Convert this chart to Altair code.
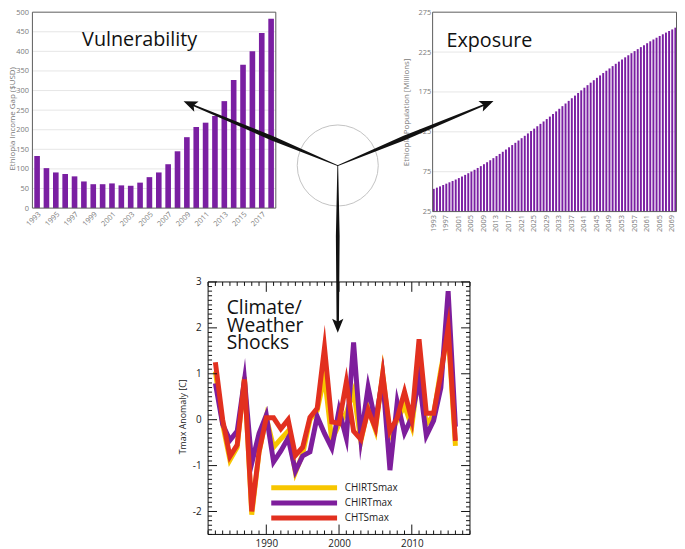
import math
import altair as alt
import pandas as pd

# ---------------- data ----------------
vul_years = list(range(1993, 2019))
vul_gap = [133, 102, 91, 87, 81, 68, 61, 61, 63, 58, 57, 65, 79, 91, 112, 145,
           181, 207, 218, 235, 273, 327, 366, 400, 447, 483]

pop_years = list(range(1993, 2071))
pop_millions = [53.5, 55.0, 56.6, 58.3, 60.0, 61.7, 63.4, 65.2, 67.0, 69.0,
                71.0, 73.1, 75.2, 77.4, 79.7, 82.0, 84.4, 86.9, 89.4, 92.0,
                94.6, 97.3, 100.0, 102.8, 105.6, 108.4, 111.2, 114.1, 117.0, 120.0,
                123.0, 126.0, 129.0, 132.0, 135.0, 138.0, 141.0, 144.1, 147.3, 150.6,
                153.9, 157.2, 160.5, 163.8, 167.1, 170.4, 173.7, 177.0, 180.3, 183.5,
                186.6, 189.7, 192.7, 195.7, 198.7, 201.6, 204.5, 207.4, 210.3, 213.0,
                215.7, 218.4, 221.0, 223.6, 226.2, 228.7, 231.2, 233.7, 236.1, 238.5,
                240.8, 243.0, 245.2, 247.3, 249.4, 251.4, 253.4, 255.6]

clim_years = list(range(1983, 2017))
chirts_max = [1.05, -0.10, -0.88, -0.60, 0.93, -2.07, -0.72, 0.05, -0.60, -0.42,
              -0.25, -1.15, -0.75, 0.00, 0.20, 0.95, -0.45, -0.10, 0.15, 0.62,
              -0.47, 0.25, -0.22, 1.00, -0.35, 0.00, 0.30, -0.15, 1.10, -0.10,
              0.10, 1.10, 1.90, -0.57]
chirt_max = [0.79, -0.10, -0.45, -0.25, 0.87, -0.95, -0.30, 0.10, -0.92, -0.68,
             -0.40, -1.12, -0.79, -0.70, 0.07, -0.30, -0.62, 0.21, -0.40, 1.68,
             -0.40, 0.71, -0.05, 0.90, -1.10, 0.38, -0.29, 0.05, 0.90, -0.35,
             -0.02, 0.70, 2.80, -0.15]
chts_max = [1.25, 0.00, -0.80, -0.55, 0.88, -2.00, -0.70, 0.04, 0.04, -0.20,
            0.00, -0.78, -0.60, 0.05, 0.25, 1.57, -0.05, -0.08, 0.82, -0.25,
            -0.43, 0.21, -0.18, 1.00, -0.25, 0.04, 0.61, 0.00, 1.75, 0.14,
            0.14, 1.00, 2.00, -0.46]
series_names = ["CHIRTSmax", "CHIRTmax", "CHTSmax"]
series_colors = ["#f7c600", "#7e1e9c", "#e2301f"]

# ---------------- layout helpers (figure pixel frame -> view pixels) ----------------
W, H = 677, 541
TOP_S = (274 - 1) / (282 - 3.3)


def fx(x):
    return x - 8


def fy(y):
    if y >= 282:
        return y - 8
    return 1 + (y - 3.3) * TOP_S


FONT = "Open Sans"
GRAY = "#7a7a7a"
PURPLE = "#7a1fa2"
FRAME = "#5a5a5a"
one = pd.DataFrame({"k": [0]})

# panel boxes (left, right, top, bottom)
VB = (fx(32.7), fx(279), fy(3.3), fy(205.7))
EB = (fx(437.7), fx(684.5), fy(3.3), fy(209.3))
CB = (fx(210.5), fx(475.5), fy(282), fy(537.5))


def frame(box, color):
    return alt.Chart(one).mark_rect(fillOpacity=0, stroke=color, strokeWidth=1).encode(
        x=alt.value(box[0]), x2=alt.value(box[1]), y=alt.value(box[2]), y2=alt.value(box[3]))


def label(text, x, y, size=20):
    return alt.Chart(one).mark_text(
        text=text, font=FONT, fontSize=size, lineHeight=18, align="left",
        baseline="alphabetic", color="#111").encode(x=alt.value(fx(x)), y=alt.value(fy(y)))


# ---------------- vulnerability ----------------
vul_df = pd.DataFrame({"year": vul_years, "gap": vul_gap})
vul_x = alt.X("year:O", scale=alt.Scale(range=[VB[0], VB[1]], paddingInner=0.4, paddingOuter=0.2),
              axis=alt.Axis(values=vul_years[::2], labelAngle=-45, labelFontSize=7.5,
                            labelColor=GRAY, ticks=False, title=None, domain=False, grid=False,
                            labelPadding=2, orient="bottom", offset=-(H - VB[3])))
vul_yaxis = alt.Axis(values=list(range(0, 501, 50)), title="Ethiopia Income Gap ($USD)",
                     titleFontSize=8, titleColor=GRAY, titleFontWeight="normal",
                     labelFontSize=7.5, labelColor=GRAY, ticks=False, labelPadding=4,
                     domain=False, grid=False, orient="left", offset=-VB[0],
                     titleX=-(VB[0] - 4.5), titleY=fy(113), titleBaseline="middle",
                     titleAlign="center")
vul_yscale = alt.Scale(domain=[0, 500], range=[VB[3], VB[2]], nice=False)
vul_grid = alt.Chart(pd.DataFrame({"gap": list(range(50, 451, 50))})).mark_rule(
    color="#e6e6e6", strokeWidth=1).encode(
    y=alt.Y("gap:Q", scale=vul_yscale, axis=vul_yaxis),
    x=alt.value(VB[0]), x2=alt.value(VB[1]))
vul_bars = alt.Chart(vul_df).mark_bar(color=PURPLE).encode(
    x=vul_x, y=alt.Y("gap:Q", scale=vul_yscale, axis=vul_yaxis))
vul = alt.layer(vul_grid, vul_bars, frame(VB, FRAME), label("Vulnerability", 83, 38.3))

# ---------------- exposure ----------------
pop_df = pd.DataFrame({"year": pop_years, "pop": pop_millions})
pop_x = alt.X("year:O", scale=alt.Scale(range=[EB[0], EB[1]], paddingInner=0.38, paddingOuter=0.05),
              axis=alt.Axis(values=pop_years[::4], labelAngle=-90, labelFontSize=7.5,
                            labelColor=GRAY, ticks=False, title=None, domain=False, grid=False,
                            labelPadding=3, orient="bottom", offset=-(H - EB[3])))
pop_yaxis = alt.Axis(values=[25, 75, 125, 175, 225, 275], title="Ethiopia Population [Millions]",
                     titleFontSize=8, titleColor=GRAY, titleFontWeight="normal",
                     labelFontSize=7.5, labelColor=GRAY, ticks=False, labelPadding=2,
                     domain=False, grid=False, titlePadding=8, orient="left", offset=-EB[0])
pop_yscale = alt.Scale(domain=[25, 275], range=[EB[3], EB[2]], nice=False, zero=False)
pop_grid = alt.Chart(pd.DataFrame({"pop": [75, 125, 175, 225]})).mark_rule(
    color="#e6e6e6", strokeWidth=1).encode(
    y=alt.Y("pop:Q", scale=pop_yscale, axis=pop_yaxis),
    x=alt.value(EB[0]), x2=alt.value(EB[1]))
pop_bars = alt.Chart(pop_df).mark_bar(color=PURPLE).encode(
    x=pop_x, y=alt.Y("pop:Q", scale=pop_yscale, axis=pop_yaxis), y2=alt.datum(25))
expo = alt.layer(pop_grid, pop_bars, frame(EB, FRAME), label("Exposure", 451.7, 39))

# ---------------- climate ----------------
rows = []
for name, vals in zip(series_names, [chirts_max, chirt_max, chts_max]):
    for yr, v in zip(clim_years, vals):
        rows.append({"year": yr, "anomaly": v, "series": name})
clim_df = pd.DataFrame(rows)

xscale = alt.Scale(domain=[1982, 2018], range=[CB[0], CB[1]], nice=False, zero=False)
yscale = alt.Scale(domain=[-2.5, 3], range=[CB[3], CB[2]], nice=False, zero=False)
cscale = alt.Scale(domain=series_names, range=series_colors)
c_xaxis = alt.Axis(values=[1990, 2000, 2010], format="d", ticks=False, title=None, grid=False,
                   labelFontSize=10, labelColor="#222", domain=False, labelPadding=4,
                   orient="bottom", offset=-(H - CB[3]))
c_yaxis = alt.Axis(values=[-2, -1, 0, 1, 2, 3], labelExpr="datum.value", ticks=False,
                   grid=False, title="Tmax Anomaly [C]", titleFontSize=9, titleColor="#222",
                   titleFontWeight="normal", labelFontSize=10, labelColor="#222",
                   domain=False, labelPadding=7, titlePadding=5, orient="left", offset=-CB[0],
                   titleY=fy(418))
legend = alt.Legend(title=None, orient="none", legendX=fx(271.7), legendY=fy(487.3) - 3,
                    direction="vertical", symbolType="stroke", symbolSize=66.6 ** 2,
                    symbolStrokeWidth=5, labelFontSize=10, labelFont=FONT, labelColor="#222",
                    clipHeight=12, rowPadding=3.3, labelOffset=5)


def line_layer(name):
    return alt.Chart(clim_df).transform_filter(alt.datum.series == name).mark_line(
        strokeWidth=5, strokeJoin="miter", strokeMiterLimit=10).encode(
        x=alt.X("year:Q", scale=xscale, axis=c_xaxis),
        y=alt.Y("anomaly:Q", scale=yscale, axis=c_yaxis),
        color=alt.Color("series:N", scale=cscale, legend=legend))


lines = [line_layer(n) for n in series_names]

# inward frame ticks
xt = pd.DataFrame({"year": list(range(1982, 2019))})
xt["len"] = [10 if y % 10 == 0 else 4 for y in xt["year"]]
yt = pd.DataFrame({"anomaly": [round(-2.5 + 0.1 * k, 1) for k in range(56)]})
yt["len"] = [9 if abs(v - round(v)) < 1e-9 else 4 for v in yt["anomaly"]]

tick_layers = []
for lenv in (4, 10):
    d = xt[xt["len"] == lenv]
    tick_layers.append(alt.Chart(d).mark_rule(color="#111", strokeWidth=1).encode(
        x=alt.X("year:Q", scale=xscale, axis=c_xaxis), y=alt.value(CB[2]), y2=alt.value(CB[2] + lenv)))
    tick_layers.append(alt.Chart(d).mark_rule(color="#111", strokeWidth=1).encode(
        x=alt.X("year:Q", scale=xscale, axis=c_xaxis), y=alt.value(CB[3]), y2=alt.value(CB[3] - lenv)))
for lenv in (4, 9):
    d = yt[yt["len"] == lenv]
    tick_layers.append(alt.Chart(d).mark_rule(color="#111", strokeWidth=1).encode(
        y=alt.Y("anomaly:Q", scale=yscale, axis=c_yaxis), x=alt.value(CB[0]), x2=alt.value(CB[0] + lenv)))
    tick_layers.append(alt.Chart(d).mark_rule(color="#111", strokeWidth=1).encode(
        y=alt.Y("anomaly:Q", scale=yscale, axis=c_yaxis), x=alt.value(CB[1]), x2=alt.value(CB[1] - lenv)))

clim = alt.layer(*lines, *tick_layers, frame(CB, "#111"),
                 label(["Climate/", "Weather", "Shocks"], 229.3, 314.3, 19.5))

# ---------------- hub: circle and arrows ----------------
HUB = (341.7, 161.7)
TIPS = {"vul": (185.7, 95.3), "exp": (499.3, 95.0), "clim": (341.7, 333.3)}
WIDTHS = {"vul": (0.8, 4.6, 1.6), "exp": (0.8, 4.6, 1.6), "clim": (0.8, 3.8, 2.4)}
K = 7.6
hub = (fx(HUB[0]), fy(HUB[1]))
trail_rows, head_rows = [], []
for nm, tip_ref in TIPS.items():
    tip = (fx(tip_ref[0]), fy(tip_ref[1]))
    dx, dy = tip[0] - hub[0], tip[1] - hub[1]
    L = math.hypot(dx, dy)
    ux, uy = dx / L, dy / L
    base = (tip[0] - 1.3 * K * ux, tip[1] - 1.3 * K * uy)
    for f, w in zip((0.0, 0.45, 1.0), WIDTHS[nm]):
        trail_rows.append({"arrow": nm, "t": f,
                           "px": hub[0] + f * (base[0] - hub[0]),
                           "py": hub[1] + f * (base[1] - hub[1]), "w": w})
    head_rows.append({"arrow": nm, "px": tip[0] - K * ux, "py": tip[1] - K * uy,
                      "ang": math.degrees(math.atan2(ux, -uy)) % 360})
trail_df = pd.DataFrame(trail_rows)
head_df = pd.DataFrame(head_rows)

circle = alt.Chart(one).mark_point(
    shape="circle", size=82 ** 2, filled=False, stroke="#aaaaaa", strokeWidth=1).encode(
    x=alt.value(hub[0]), y=alt.value(hub[1]))
trails = alt.Chart(trail_df).mark_trail(color="#111").encode(
    x=alt.X("px:Q", scale=None), y=alt.Y("py:Q", scale=None),
    size=alt.Size("w:Q", scale=None, legend=None),
    detail="arrow:N", order="t:Q")
heads = alt.Chart(head_df).mark_point(
    shape="M0,-1L0.75,0.85L0,0.45L-0.75,0.85Z", filled=True, color="#111", opacity=1,
    size=(2 * K) ** 2, strokeWidth=0).encode(
    x=alt.X("px:Q", scale=None), y=alt.Y("py:Q", scale=None),
    angle=alt.Angle("ang:Q", scale=None))
hub_layer = alt.layer(circle, trails, heads)

chart = alt.layer(vul, expo, clim, hub_layer).resolve_scale(
    x="independent", y="independent"
).properties(
    width=W, height=H, padding=0, autosize=alt.AutoSizeParams(type="none")
).configure(font=FONT).configure_view(strokeOpacity=0).configure_axis(
    labelFont=FONT, titleFont=FONT)

chart.save("out.html", embed_options={"renderer": "svg", "actions": False})
